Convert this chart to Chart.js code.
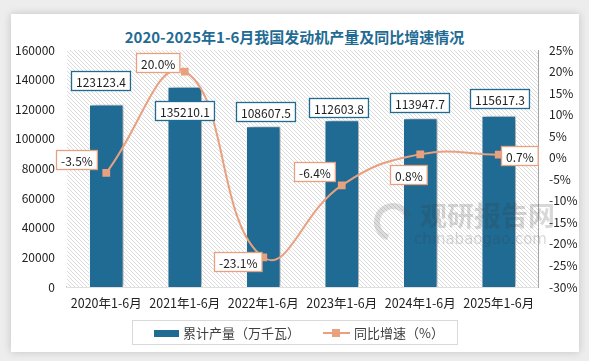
<!DOCTYPE html>
<html>
<head>
<meta charset="utf-8">
<script src="https://cdn.jsdelivr.net/npm/chart.js@4"></script>
<style>
    html, body { margin: 0; padding: 0; }
    body { width: 589px; height: 361px; background: #ededed; position: relative; overflow: hidden; font-family: "Noto Sans CJK SC", sans-serif; }
    .card { position: absolute; left: 11px; top: 14px; width: 568px; height: 338px; background: #fff; box-shadow: 0 0 8px rgba(0,0,0,0.18); }
    .title { position: absolute; left: 0; width: 589px; top: 26px; text-align: center; font-size: 15px; font-weight: bold; color: #1f6b93; }
    .legend { position: absolute; left: 132px; top: 320px; width: 326px; height: 25px; border: 1px solid #d9d9d9; box-sizing: border-box; font-size: 13px; color: #404040; }
    .legend span { position: absolute; top: 3px; line-height: 18px; }
    .swatch-bar { position: absolute; left: 21px; top: 9px; width: 25px; height: 7px; background: #1f6b93; }
    .swatch-line { position: absolute; left: 190px; top: 11px; width: 27px; height: 2px; background: #e9a07f; }
    .swatch-line::after { content: ""; position: absolute; left: 9px; top: -3px; width: 8px; height: 8px; background: #e9a07f; }
    canvas { position: absolute; left: 0; top: 0; }
</style>
</head>
<body>
<div class="card"></div>
<div class="title">2020-2025年1-6月我国发动机产量及同比增速情况</div>
<div style="position:absolute;left:0;top:0;width:589px;height:361px;">
    <canvas id="chart" width="589" height="361"></canvas>
</div>
<div class="legend">
    <div class="swatch-bar"></div><span style="left:50px;">累计产量（万千瓦）</span>
    <div class="swatch-line"></div><span style="left:221px;">同比增速（%）</span>
</div>
<script>
const categories = ['2020年1-6月', '2021年1-6月', '2022年1-6月', '2023年1-6月', '2024年1-6月', '2025年1-6月'];
const output = [123123.4, 135210.1, 108607.5, 112603.8, 113947.7, 115617.3];
const growth = [-3.5, 20.0, -23.1, -6.4, 0.8, 0.7];

const BLUE = '#1f6b93';
const ORANGE = '#e9a07f';

// label box offsets (centre relative to the point), px
const barLabelOffsets = [[-6, -24], [0, 24], [2, -15], [-3, -13], [-1, -16], [1, -17]];
const lineLabelOffsets = [[-30, -13], [-27, -9], [-25, 4], [-27, -14], [-12, 20], [21, 1]];

function makeHatch(ctx) {
    const c = document.createElement('canvas');
    c.width = 4; c.height = 4;
    const g = c.getContext('2d');
    g.fillStyle = '#fff';
    g.fillRect(0, 0, 4, 4);
    g.strokeStyle = '#dcdcdc';
    g.lineWidth = 1;
    g.beginPath();
    g.moveTo(-1, -1); g.lineTo(5, 5);
    g.moveTo(3, -1); g.lineTo(5, 1);
    g.moveTo(-1, 3); g.lineTo(1, 5);
    g.stroke();
    return ctx.createPattern(c, 'repeat');
}

function drawBox(ctx, text, cx, cy, border) {
    ctx.font = '12px "Noto Sans CJK SC", sans-serif';
    const w = ctx.measureText(text).width + 9;
    const h = 19;
    const x = Math.round(cx - w / 2) + 0.5, y = Math.round(cy - h / 2) + 0.5;
    ctx.fillStyle = '#fff';
    ctx.fillRect(x, y, w, h);
    ctx.strokeStyle = border;
    ctx.lineWidth = 1.3;
    ctx.strokeRect(x, y, w, h);
    ctx.fillStyle = '#222';
    ctx.textAlign = 'center';
    ctx.textBaseline = 'middle';
    ctx.fillText(text, x + w / 2, y + h / 2 + 1);
}

function drawWatermark(ctx) {
    ctx.save();
    ctx.globalAlpha = 0.2;
    ctx.fillStyle = '#3a3a3a';
    ctx.font = 'bold 27px "Noto Sans CJK SC", sans-serif';
    ctx.textAlign = 'left';
    ctx.textBaseline = 'alphabetic';
    ctx.fillText('观研报告网', 420, 226);
    ctx.font = '15px "DejaVu Sans", sans-serif';
    ctx.fillText('chinabaogao.com', 414, 244);
    ctx.lineWidth = 6;
    ctx.strokeStyle = '#555';
    ctx.beginPath();
    ctx.arc(393, 222, 16, Math.PI * 0.6, Math.PI * 1.9);
    ctx.stroke();
    ctx.restore();
}

const decor = {
    id: 'decor',
    beforeDatasetsDraw(chart) {
        const { ctx, chartArea: a } = chart;
        ctx.save();
        ctx.fillStyle = makeHatch(ctx);
        ctx.fillRect(a.left, a.top, a.right - a.left, a.bottom - a.top);
        ctx.restore();
    },
    beforeDatasetDraw(chart, args) {
        if (args.index === 0) {
            const ctx = chart.ctx;
            ctx.save();
            ctx.shadowColor = 'rgba(0,0,0,0.35)';
            ctx.shadowBlur = 6;
            ctx.shadowOffsetX = 4;
            ctx.shadowOffsetY = 0;
        }
    },
    afterDatasetDraw(chart, args) {
        if (args.index === 0) {
            chart.ctx.restore();
            drawWatermark(chart.ctx);
        }
    },
    afterDatasetsDraw(chart) {
        const ctx = chart.ctx;
        ctx.save();
        chart.getDatasetMeta(0).data.forEach((bar, i) => {
            const o = barLabelOffsets[i];
            drawBox(ctx, output[i].toFixed(1), bar.x + o[0], bar.y + o[1], BLUE);
        });
        chart.getDatasetMeta(1).data.forEach((pt, i) => {
            const o = lineLabelOffsets[i];
            drawBox(ctx, growth[i].toFixed(1) + '%', pt.x + o[0], pt.y + o[1], ORANGE);
        });
        ctx.restore();
    }
};

new Chart(document.getElementById('chart'), {
    data: {
        labels: categories,
        datasets: [
            {
                type: 'bar',
                label: '累计产量（万千瓦）',
                data: output,
                yAxisID: 'y',
                backgroundColor: BLUE,
                borderColor: '#fff',
                borderWidth: 1,
                barPercentage: 0.44,
                categoryPercentage: 1,
                order: 2
            },
            {
                type: 'line',
                label: '同比增速（%）',
                data: growth,
                yAxisID: 'y1',
                borderColor: ORANGE,
                backgroundColor: ORANGE,
                borderWidth: 2,
                tension: 0.45,
                pointStyle: 'rect',
                pointRadius: 5.5,
                pointBorderWidth: 0,
                order: 1
            }
        ]
    },
    options: {
        responsive: false,
        animation: false,
        layout: { padding: { left: 0, right: 0, top: 50, bottom: 45 } },
        plugins: {
            legend: { display: false },
            title: { display: false },
            tooltip: { enabled: false }
        },
        scales: {
            x: {
                offset: true,
                grid: { display: false, drawTicks: false },
                border: { display: true, color: '#bfbfbf', width: 1.5 },
                ticks: { color: '#222', padding: 9, font: { size: 12.5, family: '"Noto Sans CJK SC", sans-serif' }, maxRotation: 0 },
                afterFit(s) { s.height = 29; }
            },
            y: {
                position: 'left',
                min: 0, max: 160000,
                ticks: { stepSize: 20000, color: '#222', padding: 12, font: { size: 12, family: '"Noto Sans CJK SC", sans-serif' }, callback: v => String(v) },
                grid: { display: false, drawTicks: false },
                border: { display: false },
                afterFit(s) { s.width = 67; }
            },
            y1: {
                position: 'right',
                min: -30, max: 25,
                ticks: { stepSize: 5, color: '#222', padding: 11, font: { size: 12, family: '"Noto Sans CJK SC", sans-serif' }, callback: v => v + '%' },
                grid: { display: false, drawTicks: false },
                border: { display: true, color: '#a6a6a6', width: 1 },
                afterFit(s) { s.width = 51; }
            }
        }
    },
    plugins: [decor]
});
</script>
</body>
</html>
